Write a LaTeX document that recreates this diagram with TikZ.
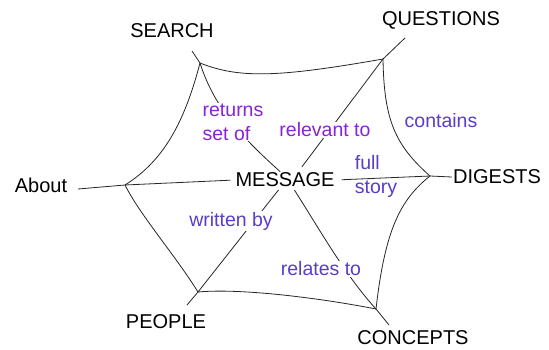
\documentclass[tikz,border=0pt]{standalone}
\usepackage{fontspec}
\setmainfont{Liberation Sans}
\definecolor{violetA}{HTML}{8A22D6}
\definecolor{violetB}{HTML}{5A3DC8}
\begin{document}
\begin{tikzpicture}[x=1pt,y=-1pt,
  term/.style={font=\fontsize{20}{24}\selectfont, text=black, inner sep=1pt},
  lbl/.style={font=\fontsize{19.5}{24}\selectfont, inner sep=1pt, fill=white, align=left},
  web/.style={draw=black!85, line width=0.8pt},
]
\useasboundingbox (0,0) rectangle (549,349);
\fill[white] (0,0) rectangle (549,349);

% terms
\node[term] (search)    at (172,31)  {SEARCH};
\node[term] (questions) at (441,20)  {QUESTIONS};
\node[term] (about)     at (41,185)  {About};
\node[term] (message)   at (285,180) {MESSAGE};
\node[term] (digests)   at (497,177) {DIGESTS};
\node[term] (people)    at (166,322) {PEOPLE};
\node[term] (concepts)  at (413,338) {CONCEPTS};

% junctions
\coordinate (jS) at (200,63);
\coordinate (jQ) at (383,59);
\coordinate (jD) at (430,176);
\coordinate (jC) at (376,309);
\coordinate (jP) at (198,292);
\coordinate (jA) at (125,185);
% tail ends
\coordinate (tS) at (192,51);
\coordinate (tQ) at (405,38);
\coordinate (tC) at (389,325);
\coordinate (tP) at (187,305);
\coordinate (tA) at (78,189);

% web
\draw[web] (jS) .. controls (240,79) and (280,77) .. (jQ);
\draw[web] (jQ) .. controls (384,120) and (395,145) .. (jD);
\draw[web] (jD) .. controls (400,200) and (385,230) .. (jC);
\draw[web] (jC) .. controls (320,298) and (240,288) .. (jP);
\draw[web] (jP) .. controls (175,255) and (140,215) .. (jA);
\draw[web] (jA) .. controls (165,160) and (185,120) .. (jS);

% tails
\draw[web] (jS) -- (tS);
\draw[web] (jQ) -- (tQ);
\draw[web] (jD) -- (digests.west);
\draw[web] (jC) -- (tC);
\draw[web] (jP) -- (tP);
\draw[web] (jA) -- (tA);

% spokes
\draw[web] (jS) .. controls (215,110) and (245,140) .. (message.120);
\draw[web, shorten <=6pt] (message.32) -- (jQ);
\draw[web, shorten <=6pt] (message.east) -- (jD);
\draw[web, shorten <=2pt] (message.-45) .. controls (320,230) and (345,275) .. (jC);
\draw[web, shorten <=2pt] (message.-122) -- (jP);
\draw[web, shorten <=4pt] (message.west) -- (jA);

% labels
\node[lbl, text=violetA] (returns)  at (233,122) {returns\\set of};
\node[lbl, text=violetA] (relevant) at (325,130) {relevant to};
\node[lbl, text=violetB, fill=none] (contains) at (441,121) {contains};
\node[lbl, text=violetB, fill=none] (full) at (376,176) {full\\story};
\node[lbl, text=violetB] (written)  at (231,221) {written by};
\node[lbl, text=violetB] (relates)  at (321,269) {relates to};
\end{tikzpicture}
\end{document}
